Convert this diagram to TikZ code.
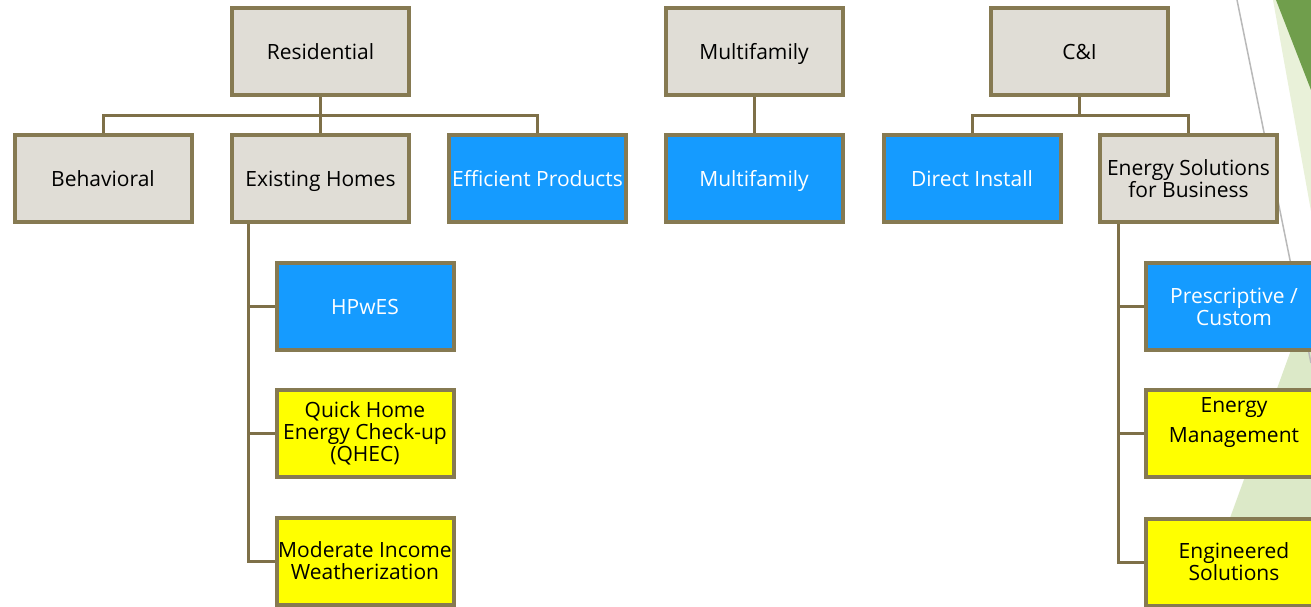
\documentclass[tikz,border=0pt]{standalone}
\usepackage{fontspec}
\setmainfont{Open Sans}
\definecolor{boxgray}{RGB}{224,221,214}
\definecolor{boxline}{RGB}{134,122,82}
\definecolor{connline}{RGB}{126,112,72}
\definecolor{boxblue}{RGB}{21,155,255}
\definecolor{boxyellow}{RGB}{255,255,0}
\definecolor{darkgreen}{RGB}{112,158,76}
\definecolor{palegreen}{RGB}{233,241,217}
\definecolor{lightgreen}{RGB}{220,233,200}
\definecolor{thingray}{RGB}{185,185,185}
\tikzset{
  orgbox/.style={rectangle, draw=boxline, line width=4pt, minimum width=177pt, minimum height=87pt,
    inner sep=0pt, align=center, font=\fontsize{21}{22}\selectfont},
  oneline/.style={text height=16pt, text depth=1pt},
  graybox/.style={orgbox, fill=boxgray, text=black},
  bluebox/.style={orgbox, fill=boxblue, text=white},
  yellowbox/.style={orgbox, fill=boxyellow, text=black},
  plaintext/.style={inner sep=0pt, align=center, font=\fontsize{21}{22}\selectfont},
  conn/.style={draw=connline, line width=3pt}
}
\begin{document}
\begin{tikzpicture}[x=1pt,y=-1pt]
\path[use as bounding box, clip] (0,0) rectangle (1311,606);
\fill[white] (0,0) rectangle (1311,606);
% background decoration
\fill[palegreen] (1273,0) -- (1311,0) -- (1311,211) -- cycle;
\fill[darkgreen] (1276,0) -- (1311,0) -- (1311,90) -- cycle;
\fill[lightgreen] (1311,295) -- (1311,606) -- (1198,606) -- cycle;
\draw[thingray, line width=1.5pt] (1237,0) -- (1311,363);
% top level
\node[graybox, oneline] (res) at (320.5,51.5) {Residential};
\node[graybox, oneline] (mft) at (754,51.5) {Multifamily};
\node[graybox, oneline] (ci) at (1079.5,51.5) {C\&I};
% second level
\node[graybox, oneline] (beh) at (103,178.5) {Behavioral};
\node[graybox, oneline] (exh) at (320.5,178.5) {Existing Homes};
\node[bluebox, oneline] (eff) at (537.5,178.5) {Efficient Products};
\node[bluebox, oneline] (mfb) at (754,178.5) {Multifamily};
\node[bluebox, oneline] (dir) at (972,178.5) {Direct Install};
\node[graybox] (esb) at (1188.5,178.5) {Energy Solutions\\for Business};
% third level
\node[bluebox, oneline] (hp) at (365,306.5) {HPwES};
\node[yellowbox] (qh) at (365,433) {Quick Home\\Energy Check-up\\(QHEC)};
\node[yellowbox] (mod) at (365,561) {Moderate Income\\Weatherization};
\node[bluebox] (pre) at (1234,306.5) {Prescriptive /\\Custom};
\node[yellowbox] (em) at (1234,433.5) {};
\node[plaintext] (emt) at ([yshift=11pt]em.center) {Energy\\[8pt]Management};
\node[yellowbox] (eng) at (1234,562) {Engineered\\Solutions};
% connectors
\coordinate (dropR) at ([xshift=18pt]exh.south west);
\coordinate (dropC) at ([xshift=20pt]esb.south west);
\path[conn] (res.south) -- (exh.north);
\path[conn] (beh.north) -- ++(0,-18) -| (eff.north);
\path[conn] (mft.south) -- (mfb.north);
\path[conn] (ci.south) -- ++(0,18);
\path[conn] (dir.north) -- ++(0,-18) -| (esb.north);
\path[conn] (dropR) |- (mod.west);
\path[conn] (hp.west) -- (hp.west -| dropR);
\path[conn] (qh.west) -- (qh.west -| dropR);
\path[conn] (dropC) |- (eng.west);
\path[conn] (pre.west) -- (pre.west -| dropC);
\path[conn] (em.west) -- (em.west -| dropC);
\end{tikzpicture}
\end{document}
